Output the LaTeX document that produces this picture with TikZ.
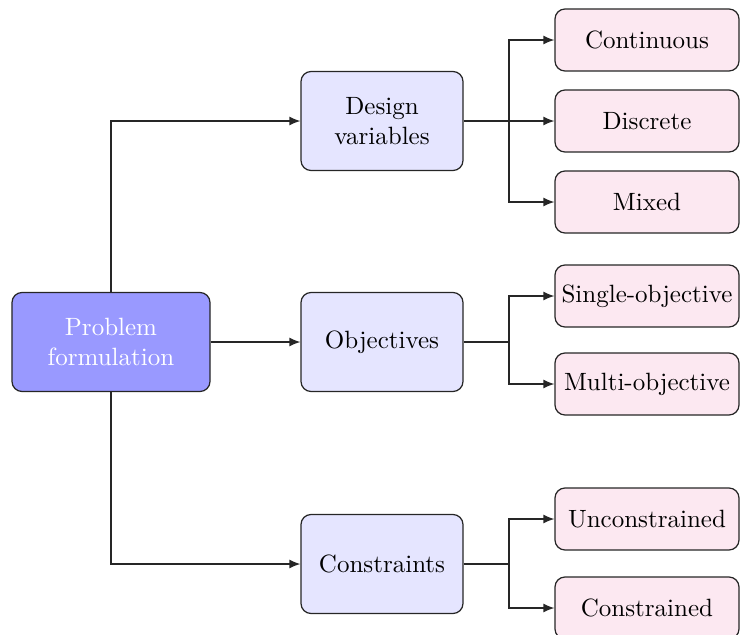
\documentclass[tikz,border=0pt]{standalone}
\usetikzlibrary{arrows.meta}
\definecolor{rootfill}{RGB}{153,153,255}
\definecolor{midfill}{RGB}{229,229,255}
\definecolor{leaffill}{RGB}{252,232,241}
\tikzset{
  basebox/.style={draw=black!85, line width=0.5pt, rounded corners=4pt, align=center, inner sep=0pt},
  rootbox/.style={basebox, fill=rootfill, text=white, minimum width=79.2pt, minimum height=39.6pt},
  midbox/.style={basebox, fill=midfill, minimum width=64.8pt, minimum height=39.6pt},
  leafbox/.style={basebox, fill=leaffill, minimum width=73.6pt, minimum height=24.8pt},
  link/.style={draw=black!85, line width=0.5pt},
  arrowlink/.style={link, -{Latex[length=4.4pt,width=3.6pt]}}
}
\begin{document}
\begin{tikzpicture}[x=0.4pt, y=-0.4pt]
  \useasboundingbox (0,0) rectangle (740,634);
  \clip (0,0) rectangle (740,634);

  % root
  \node[rootbox] (pf) at (111,342) {Problem\\formulation};

  % second level
  \node[midbox] (dv) at (382,121) {Design\\variables};
  \node[midbox] (ob) at (382,342) {Objectives};
  \node[midbox] (cs) at (382,564) {Constraints};

  % leaves
  \node[leafbox] (cont) at (647,40)  {Continuous};
  \node[leafbox] (disc) at (647,121) {Discrete};
  \node[leafbox] (mix)  at (647,202) {Mixed};
  \node[leafbox] (sing) at (647,296) {Single-objective};
  \node[leafbox] (mult) at (647,384) {Multi-objective};
  \node[leafbox] (unc)  at (647,519) {Unconstrained};
  \node[leafbox] (con)  at (647,608) {Constrained};

  % branch points
  \coordinate (bdv) at (509,121);
  \coordinate (bob) at (509,342);
  \coordinate (bcs) at (509,564);

  % root to second level
  \draw[arrowlink] (pf.north) |- (dv.west);
  \draw[arrowlink] (pf.east) -- (ob.west);
  \draw[arrowlink] (pf.south) |- (cs.west);

  % design variables
  \draw[link] (dv.east) -- (bdv);
  \draw[arrowlink] (bdv) |- (cont.west);
  \draw[arrowlink] (bdv) -- (disc.west);
  \draw[arrowlink] (bdv) |- (mix.west);

  % objectives
  \draw[link] (ob.east) -- (bob);
  \draw[arrowlink] (bob) |- (sing.west);
  \draw[arrowlink] (bob) |- (mult.west);

  % constraints
  \draw[link] (cs.east) -- (bcs);
  \draw[arrowlink] (bcs) |- (unc.west);
  \draw[arrowlink] (bcs) |- (con.west);
\end{tikzpicture}
\end{document}
